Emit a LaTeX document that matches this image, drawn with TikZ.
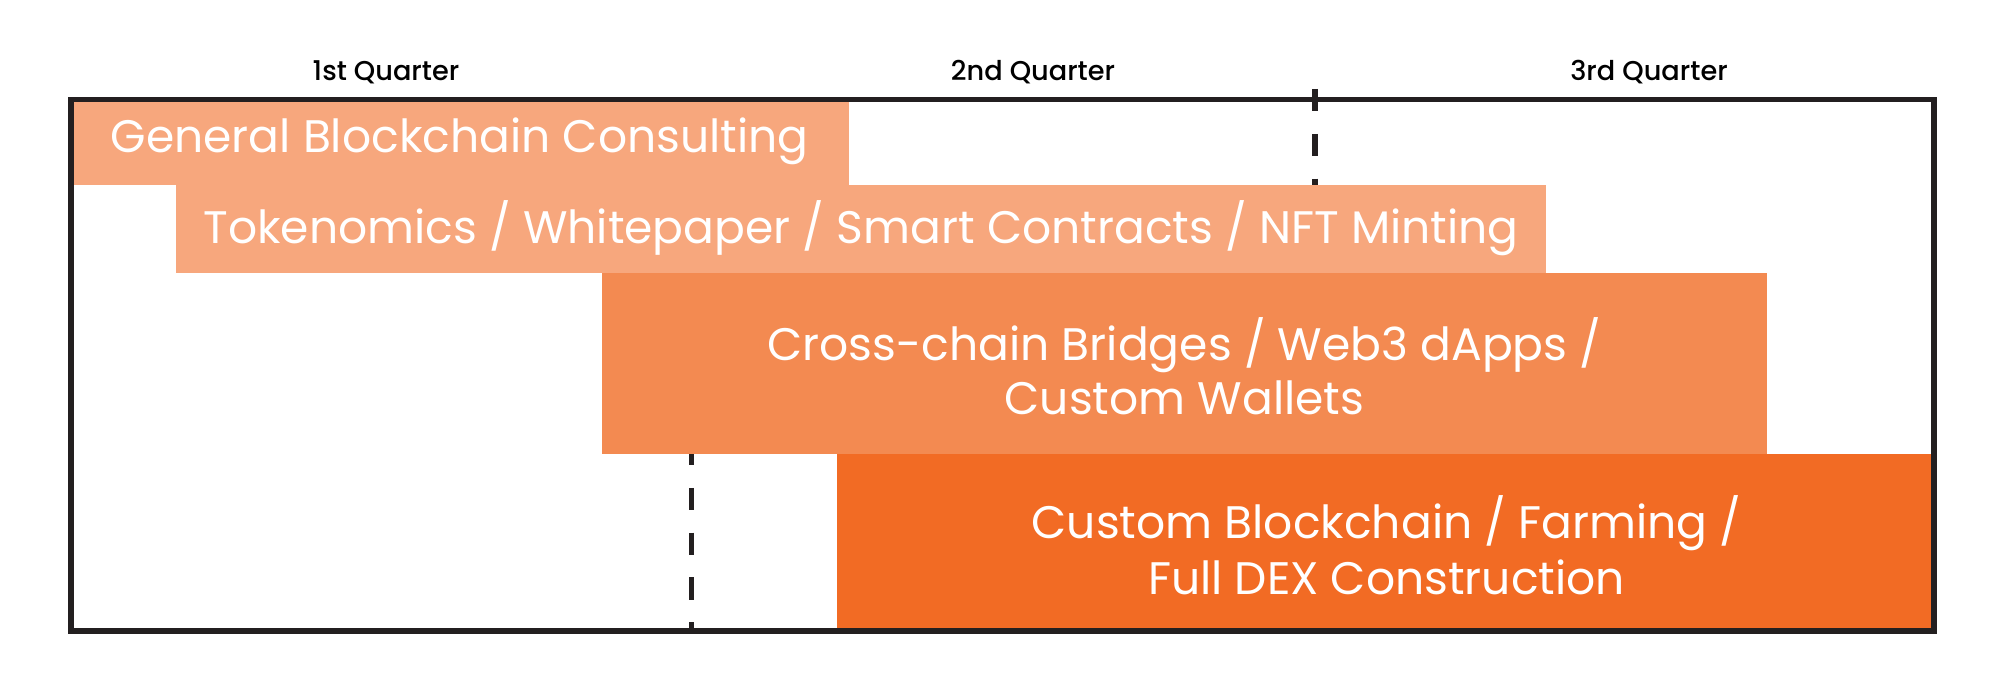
\documentclass[tikz,border=0pt]{standalone}
\usepackage{fontspec}
\setmainfont{Poppins}
\newfontfamily\headfont{Poppins Medium}
\definecolor{barA}{HTML}{F7A77D}
\definecolor{barC}{HTML}{F38A51}
\definecolor{barD}{HTML}{F26B24}
\definecolor{frame}{HTML}{231F20}
\begin{document}
\begin{tikzpicture}[x=0.5pt,y=-0.5pt,
  bar/.style={inner sep=0pt, outer sep=0pt, draw=none},
  bartext/.style={inner sep=0pt, text=white, align=center,
    font=\fontsize{22.8}{27}\selectfont},
  head/.style={inner sep=0pt, text=black, font=\headfont\fontsize{13.6}{16}\selectfont},
  divider/.style={draw=frame, line width=2.6pt, dash pattern=on 11.2pt off 11.2pt}]
\useasboundingbox (0,0) rectangle (2000,683);
% dashed quarter dividers
\coordinate (d1top) at (1315,89);
\coordinate (d1bot) at (1315,273);
\coordinate (d2top) at (691.5,443);
\coordinate (d2bot) at (691.5,630);
\draw[divider] (d1top) -- (d1bot);
\draw[divider] (d2top) -- (d2bot);
% bars
\node[bar, fill=barA, minimum width=389.5pt, minimum height=43.5pt] (b1) at (459.5,141.5) {};
\node[bar, fill=barA, minimum width=685pt, minimum height=44pt] (b2) at (861,229) {};
\node[bar, fill=barC, minimum width=582.5pt, minimum height=90.5pt] (b3) at (1184.5,363.5) {};
\node[bar, fill=barD, minimum width=549.5pt, minimum height=89pt] (b4) at (1386.5,543) {};
% bar texts
\node[bartext] (t1) at (459.5,141.5) {General Blockchain Consulting};
\node[bartext] (t2) at (861,228) {Tokenomics / Whitepaper / Smart Contracts / NFT Minting};
\node[bartext] (t3) at (1184.5,366) {Cross-chain Bridges / Web3 dApps /\\Custom Wallets};
\node[bartext, font=\fontsize{22.8}{28}\selectfont] (t4) at (1386.5,545) {Custom Blockchain / Farming /\\Full DEX Construction};
% frame
\coordinate (fTL) at (71,99.5);
\coordinate (fBR) at (1934,631);
\draw[frame, line width=2.75pt] (fTL) rectangle (fBR);
% headers
\node[head] (q1) at (386,72) {1st Quarter};
\node[head] (q2) at (1033,72) {2nd Quarter};
\node[head] (q3) at (1649,72) {3rd Quarter};
\end{tikzpicture}
\end{document}
